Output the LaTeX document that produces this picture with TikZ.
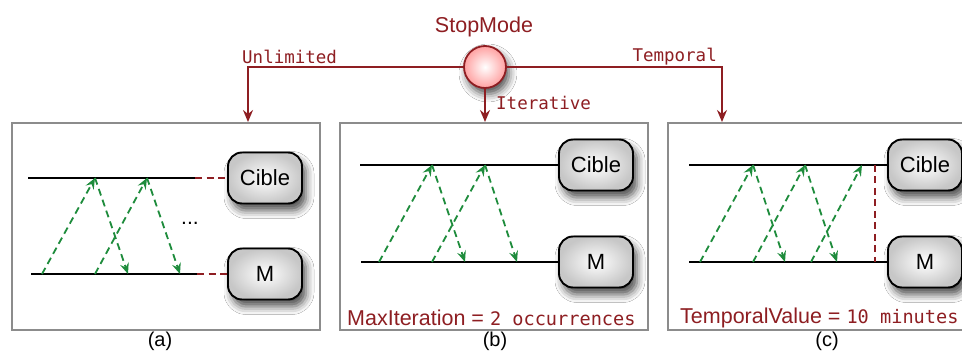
\documentclass[tikz,border=0pt]{standalone}
\usepackage{fontspec}
\setmainfont{Liberation Sans}
\setsansfont{Liberation Sans}
\setmonofont{DejaVu Sans Mono}
\usetikzlibrary{arrows.meta,shadows.blur,calc}

\definecolor{modered}{HTML}{8E1E22}
\definecolor{msggreen}{HTML}{1E8C3C}
\definecolor{framegray}{HTML}{8C8C8C}

\tikzset{
  x=1pt, y=-1pt,
  redarrow/.style={draw=modered, line width=1.9pt,
    -{Stealth[length=12pt,width=10pt,inset=4pt]}},
  msg/.style={draw=msggreen, line width=1.8pt, dash pattern=on 7pt off 4.5pt,
    -{Stealth[length=11pt,width=9pt,inset=4pt]}},
  lifeline/.style={draw=black, line width=1.9pt},
  timeout/.style={draw=modered, line width=1.9pt, dash pattern=on 7pt off 4.5pt},
  frame/.style={draw=framegray, line width=1.8pt, fill=white},
  actor/.style={draw=black, line width=1.9pt, rounded corners=14pt,
    minimum width=74pt, minimum height=51pt, inner sep=0pt,
    inner color=white, outer color=black!22,
    blur shadow={shadow xshift=4pt, shadow yshift=-7pt, shadow blur radius=8pt,
      shadow opacity=70},
    font=\fontsize{22}{25}\selectfont},
  modecircle/.style={circle, draw=modered, line width=1.8pt, minimum size=42pt,
    inner sep=0pt, inner color=white, outer color=red!28!pink!80!white,
    blur shadow={shadow xshift=3pt, shadow yshift=-6pt, shadow blur radius=8pt,
      shadow opacity=70}},
  modelabel/.style={text=modered, font=\ttfamily\fontsize{17.5}{20}\selectfont, inner sep=0pt},
  caption/.style={font=\fontsize{20}{22}\selectfont, inner sep=0pt},
  param/.style={text=modered, font=\fontsize{21.5}{24}\selectfont, inner sep=0pt}
}

\begin{document}
\begin{tikzpicture}
\clip (0,0) rectangle (962,352);
\useasboundingbox (0,0) rectangle (962,352);
\fill[white] (0,0) rectangle (962,352);

% ---- frames of the three cases
\node[frame, minimum width=308pt, minimum height=207pt, inner sep=0pt] (boxA) at (166,226.5) {};
\node[frame, minimum width=308pt, minimum height=207pt, inner sep=0pt] (boxB) at (494,226.5) {};
\node[frame, minimum width=308pt, minimum height=207pt, inner sep=0pt] (boxC) at (822,226.5) {};

\node[caption] (capA) at (160,341) {(a)};
\node[caption] (capB) at (495,341) {(b)};
\node[caption] (capC) at (827,341) {(c)};

% ---- stop mode selector
\node[param] (title) at (484,27) {StopMode};
\node[modecircle] (sm) at (485,67) {};

\coordinate (inA) at (248,122);
\coordinate (inB) at (485,122);
\coordinate (inC) at (722,122);

\draw[redarrow] (sm.west) -| (inA);
\draw[redarrow] (sm.south) -- (inB);
\draw[redarrow] (sm.east) -| (inC);

\node[modelabel, anchor=west] (lblU) at (242,57) {Unlimited};
\node[modelabel, anchor=east] (lblT) at (717,57) {Temporal};
\node[modelabel, anchor=west] (lblI) at (496,103) {Iterative};

% ---- (a) unlimited
\node[actor] (cibleA) at (265,178) {Cible};
\node[actor] (mA) at (265,274) {M};
\coordinate (tA0) at (28,178);  \coordinate (tA1) at (195,178);
\coordinate (bA0) at (31,274);  \coordinate (bA1) at (197,274);
\draw[lifeline] (tA0) -- (tA1);
\draw[lifeline] (bA0) -- (bA1);
\draw[timeout] (tA1) -- (cibleA.west);
\draw[timeout] (bA1) -- (mA.west);
\coordinate (aU1) at (95,178);  \coordinate (aU2) at (147,178);
\coordinate (aL1) at (42,274);  \coordinate (aL2) at (95,274);
\coordinate (aD1) at (128,274); \coordinate (aD2) at (180,274);
\draw[msg] (aL1) -- (aU1);
\draw[msg] (aU1) -- (aD1);
\draw[msg] (aL2) -- (aU2);
\draw[msg] (aU2) -- (aD2);
\node[caption, font=\fontsize{21}{24}\selectfont] (dotsA) at (190,223) {...};

% ---- (b) iterative
\node[actor] (cibleB) at (596,165) {Cible};
\node[actor] (mB) at (596,262) {M};
\coordinate (tB0) at (360,165);
\coordinate (bB0) at (361,262);
\draw[lifeline] (tB0) -- (cibleB.west);
\draw[lifeline] (bB0) -- (mB.west);
\coordinate (bU1) at (432,165); \coordinate (bU2) at (485,165);
\coordinate (bL1) at (379,262); \coordinate (bL2) at (432,262);
\coordinate (bD1) at (465,262); \coordinate (bD2) at (517,262);
\draw[msg] (bL1) -- (bU1);
\draw[msg] (bU1) -- (bD1);
\draw[msg] (bL2) -- (bU2);
\draw[msg] (bU2) -- (bD2);
\node[param, anchor=west] (maxit) at (347,318)
  {MaxIteration = \texttt{\fontsize{18.6}{20}\selectfont 2 occurrences}};

% ---- (c) temporal
\node[actor] (cibleC) at (925,165) {Cible};
\node[actor] (mC) at (925,262) {M};
\coordinate (tC0) at (689,165);
\coordinate (bC0) at (689,262);
\draw[lifeline] (tC0) -- (cibleC.west);
\draw[lifeline] (bC0) -- (mC.west);
\coordinate (cU1) at (753,165); \coordinate (cU2) at (805,165); \coordinate (cU3) at (862,165);
\coordinate (cL1) at (700,262); \coordinate (cL2) at (753,262); \coordinate (cL3) at (811,262);
\coordinate (cD1) at (785,262); \coordinate (cD2) at (837,262);
\draw[msg] (cL1) -- (cU1);
\draw[msg] (cU1) -- (cD1);
\draw[msg] (cL2) -- (cU2);
\draw[msg] (cU2) -- (cD2);
\draw[msg] (cL3) -- (cU3);
\coordinate (limT) at (875,165);
\coordinate (limB) at (875,262);
\draw[timeout] (limT) -- (limB);
\node[param, anchor=west] (tval) at (680,318)
  {TemporalValue = \texttt{\fontsize{18.6}{20}\selectfont 10 minutes}};
\end{tikzpicture}
\end{document}
